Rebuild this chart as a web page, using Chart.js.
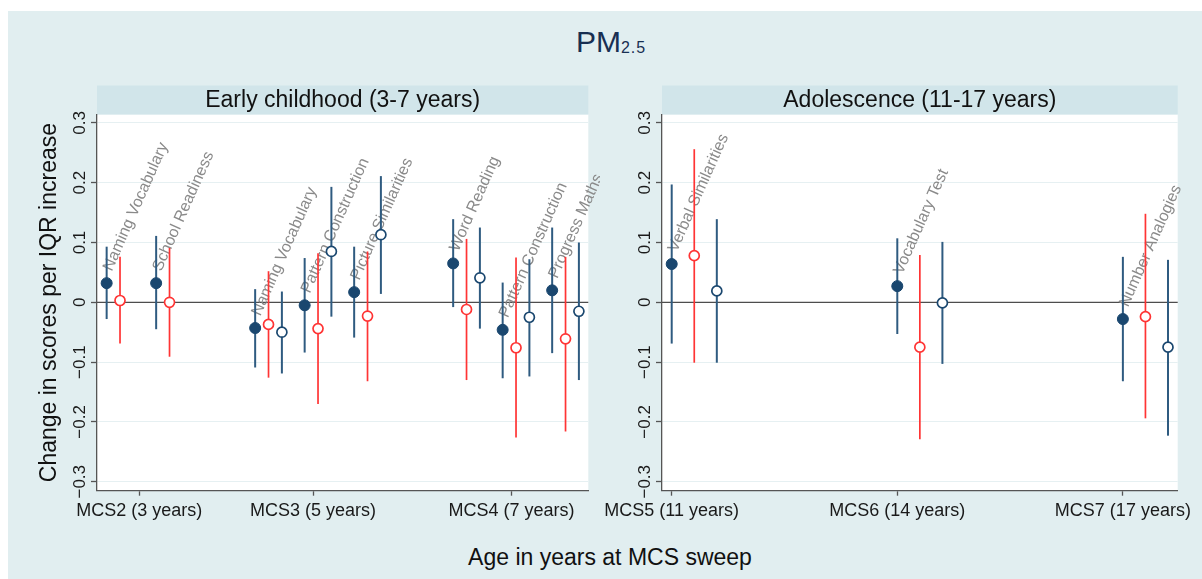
<!DOCTYPE html>
<html>
<head>
<meta charset="utf-8">
<script src="https://cdn.jsdelivr.net/npm/chart.js@4"></script>
<style>
body{margin:0;background:#fff;font-family:Arial,"Liberation Sans",sans-serif}
#wrap{position:relative;width:1202px;height:579px;overflow:hidden}
#bg{position:absolute;left:8px;top:11px;right:0;bottom:0;background:#e1eef0}
#title{position:absolute;left:0;width:1222px;top:27px;text-align:center;font-size:30px;line-height:30px;color:#182f52}
#title span{font-size:16px;letter-spacing:1px;vertical-align:-1px}
#xtitle{position:absolute;left:0;width:1220px;top:546px;text-align:center;font-size:23px;line-height:23px;color:#111}
canvas{position:absolute;top:80px}
#early{left:0}
#adol{left:600px}
</style>
</head>
<body>
<div id="wrap">
  <div id="bg"></div>
  <div id="title">PM<span>2.5</span></div>
  <canvas id="early" width="600" height="450"></canvas>
  <canvas id="adol" width="602" height="450"></canvas>
  <div id="xtitle">Age in years at MCS sweep</div>
</div>
<script>
const FONT = 'Arial, "Liberation Sans", sans-serif';
const NAVY = "#1a476f", CI_NAVY = "#2f5b80", RED = "#ff3434", AXIS = "#555";

// Early childhood (3-7 years)
const earlySweeps = ["MCS2 (3 years)", "MCS3 (5 years)", "MCS4 (7 years)"];
const earlyTicks = [0.39, 3.9, 7.91];
const earlySlots = [0, 1, 3, 4, 5, 7, 8, 9];
const earlyTests = ["Naming Vocabulary", "School Readiness", "Naming Vocabulary", "Pattern Construction",
  "Picture Similarities", "Word Reading", "Pattern Construction", "Progress Maths"];
const earlyEst1 = [0.032, 0.032, -0.043, -0.005, 0.017, 0.065, -0.046, 0.020];
const earlyLo1  = [-0.028, -0.045, -0.109, -0.084, -0.059, -0.008, -0.127, -0.085];
const earlyHi1  = [0.093, 0.111, 0.022, 0.074, 0.093, 0.139, 0.033, 0.125];
const earlyEst2 = [0.003, 0.000, -0.037, -0.044, -0.023, -0.012, -0.076, -0.061];
const earlyLo2  = [-0.069, -0.091, -0.126, -0.170, -0.132, -0.130, -0.226, -0.216];
const earlyHi2  = [0.076, 0.091, 0.052, 0.082, 0.085, 0.106, 0.075, 0.076];
const earlyEst3 = [null, null, -0.050, 0.085, 0.113, 0.041, -0.025, -0.015];
const earlyLo3  = [null, null, -0.119, -0.024, 0.014, -0.044, -0.124, -0.130];
const earlyHi3  = [null, null, 0.018, 0.193, 0.211, 0.125, 0.072, 0.100];

// Adolescence (11-17 years)
const adolSweeps = ["MCS5 (11 years)", "MCS6 (14 years)", "MCS7 (17 years)"];
const adolTicks = [0, 1, 2];
const adolSlots = [0, 1, 2];
const adolTests = ["Verbal Similarities", "Vocabulary Test", "Number Analogies"];
const adolEst1 = [0.064, 0.027, -0.028];
const adolLo1  = [-0.069, -0.053, -0.132];
const adolHi1  = [0.197, 0.107, 0.076];
const adolEst2 = [0.078, -0.075, -0.024];
const adolLo2  = [-0.101, -0.229, -0.194];
const adolHi2  = [0.256, 0.079, 0.148];
const adolEst3 = [0.019, -0.001, -0.075];
const adolLo3  = [-0.101, -0.103, -0.223];
const adolHi3  = [0.139, 0.101, 0.071];

const yTicks = [-0.3, -0.2, -0.1, 0, 0.1, 0.2, 0.3];
const fmtY = v => v === 0 ? "0" : (v < 0 ? "\u2212" : "") + Math.abs(v).toFixed(1);

// strip, white plot area, rotated y labels, zero line, CIs, test labels
const panelPlugin = {
  id: "panel",
  beforeDraw(chart){
    const {ctx, chartArea:a} = chart, o = chart.options.plugins.panel, y = chart.scales.y;
    ctx.save();
    ctx.fillStyle = "#fff";
    ctx.fillRect(a.left, a.top, a.right - a.left, a.bottom - a.top);
    ctx.fillStyle = "#d1e5ea";
    ctx.fillRect(a.left, a.top - 29, a.right - a.left, 29);
    ctx.fillStyle = "#111";
    ctx.font = "23px " + FONT;
    ctx.textAlign = "center"; ctx.textBaseline = "middle";
    ctx.fillText(o.strip, (a.left + a.right) / 2, a.top - 14);
    ctx.font = "17px " + FONT;
    ctx.fillStyle = "#1a1a1a";
    y.ticks.forEach(t => {
      ctx.save();
      ctx.translate(y.right - 17, y.getPixelForValue(t.value));
      ctx.rotate(-Math.PI / 2);
      ctx.fillText(fmtY(t.value), 0, 0);
      ctx.restore();
    });
    ctx.restore();
  },
  beforeDatasetsDraw(chart){
    const {ctx, chartArea:a, scales:{x, y}} = chart, o = chart.options.plugins.panel;
    ctx.save();
    ctx.strokeStyle = "#4d4d4d"; ctx.lineWidth = 1.3;
    ctx.beginPath();
    ctx.moveTo(a.left, y.getPixelForValue(0));
    ctx.lineTo(a.right, y.getPixelForValue(0));
    ctx.stroke();
    // test names, rotated, anchored at the first estimate
    ctx.fillStyle = "#8a8a8a";
    ctx.font = "16px " + FONT;
    ctx.textAlign = "left"; ctx.textBaseline = "middle";
    chart.data.datasets[0].data.forEach((p, i) => {
      ctx.save();
      ctx.translate(x.getPixelForValue(p.x) + 1, y.getPixelForValue(p.y) - 13);
      ctx.rotate(-66 * Math.PI / 180);
      ctx.fillText(o.tests[i], 0, 0);
      ctx.restore();
    });
    chart.data.datasets.forEach(ds => {
      ctx.strokeStyle = ds.ci; ctx.lineWidth = ds.ciWidth;
      ds.data.forEach(p => {
        const px = x.getPixelForValue(p.x);
        ctx.beginPath();
        ctx.moveTo(px, y.getPixelForValue(p.lo));
        ctx.lineTo(px, y.getPixelForValue(p.hi));
        ctx.stroke();
      });
    });
    ctx.restore();
  }
};

function points(slots, est, lo, hi, off){
  return slots.map((s, i) => ({x: s + off, y: est[i], lo: lo[i], hi: hi[i]})).filter(p => p.y != null);
}

function makePanel(id, o){
  return new Chart(document.getElementById(id), {
    type: "scatter",
    data: { datasets: [
      { data: points(o.slots, o.est1, o.lo1, o.hi1, o.off[0]), ci: CI_NAVY, ciWidth: 2,
        pointRadius: 5.5, pointBackgroundColor: NAVY, pointBorderColor: NAVY, pointBorderWidth: 1 },
      { data: points(o.slots, o.est2, o.lo2, o.hi2, o.off[1]), ci: RED, ciWidth: 1.7,
        pointRadius: 5, pointBackgroundColor: "#fff", pointBorderColor: RED, pointBorderWidth: 1.7 },
      { data: points(o.slots, o.est3, o.lo3, o.hi3, o.off[2]), ci: CI_NAVY, ciWidth: 2,
        pointRadius: 5, pointBackgroundColor: "#fff", pointBorderColor: NAVY, pointBorderWidth: 1.7 }
    ]},
    options: {
      responsive: false, animation: false, events: [],
      layout: { padding: { top: 34.5, right: o.padRight, bottom: 0, left: 0 } },
      plugins: { legend: { display: false }, tooltip: { enabled: false },
        panel: { strip: o.strip, tests: o.tests } },
      scales: {
        x: { type: "linear", min: o.xmin, max: o.xmax,
          afterBuildTicks: s => { s.ticks = o.ticks.map(v => ({value: v})); },
          afterFit: s => { s.height = 39.3; s.paddingLeft = 0; s.paddingRight = 0; },
          grid: { drawOnChartArea: false, tickLength: 5, tickColor: AXIS, tickWidth: 1.3 },
          border: { color: AXIS, width: 1.3 },
          ticks: { autoSkip: false, maxRotation: 0, padding: 5, color: "#1a1a1a",
            font: { size: 18, family: FONT }, callback: (v, i) => o.sweeps[i] } },
        y: { min: -0.315, max: 0.314,
          afterBuildTicks: s => { s.ticks = yTicks.map(v => ({value: v})); },
          afterFit: s => { s.width = o.yWidth; },
          grid: { color: "#e6f0f2", tickLength: 6, tickColor: AXIS, tickWidth: 1.3 },
          border: { color: AXIS, width: 1.3 },
          ticks: { display: false },
          title: { display: !!o.ytitle, text: o.ytitle, color: "#111",
            font: { size: 23, family: FONT }, padding: { top: 36, bottom: 0 } } }
      }
    },
    plugins: [panelPlugin]
  });
}

makePanel("early", {
  strip: "Early childhood (3-7 years)", ytitle: "Change in scores per IQR increase",
  sweeps: earlySweeps, ticks: earlyTicks, slots: earlySlots, tests: earlyTests, off: [-0.27, 0, 0.27],
  est1: earlyEst1, lo1: earlyLo1, hi1: earlyHi1, est2: earlyEst2, lo2: earlyLo2, hi2: earlyHi2,
  est3: earlyEst3, lo3: earlyLo3, hi3: earlyHi3,
  xmin: -0.465, xmax: 9.46, yWidth: 97, padRight: 11.7
});

makePanel("adol", {
  strip: "Adolescence (11-17 years)",
  sweeps: adolSweeps, ticks: adolTicks, slots: adolSlots, tests: adolTests, off: [0, 0.1, 0.2],
  est1: adolEst1, lo1: adolLo1, hi1: adolHi1, est2: adolEst2, lo2: adolLo2, hi2: adolHi2,
  est3: adolEst3, lo3: adolLo3, hi3: adolHi3,
  xmin: -0.043, xmax: 2.243, yWidth: 62, padRight: 24.3
});
</script>
</body>
</html>
